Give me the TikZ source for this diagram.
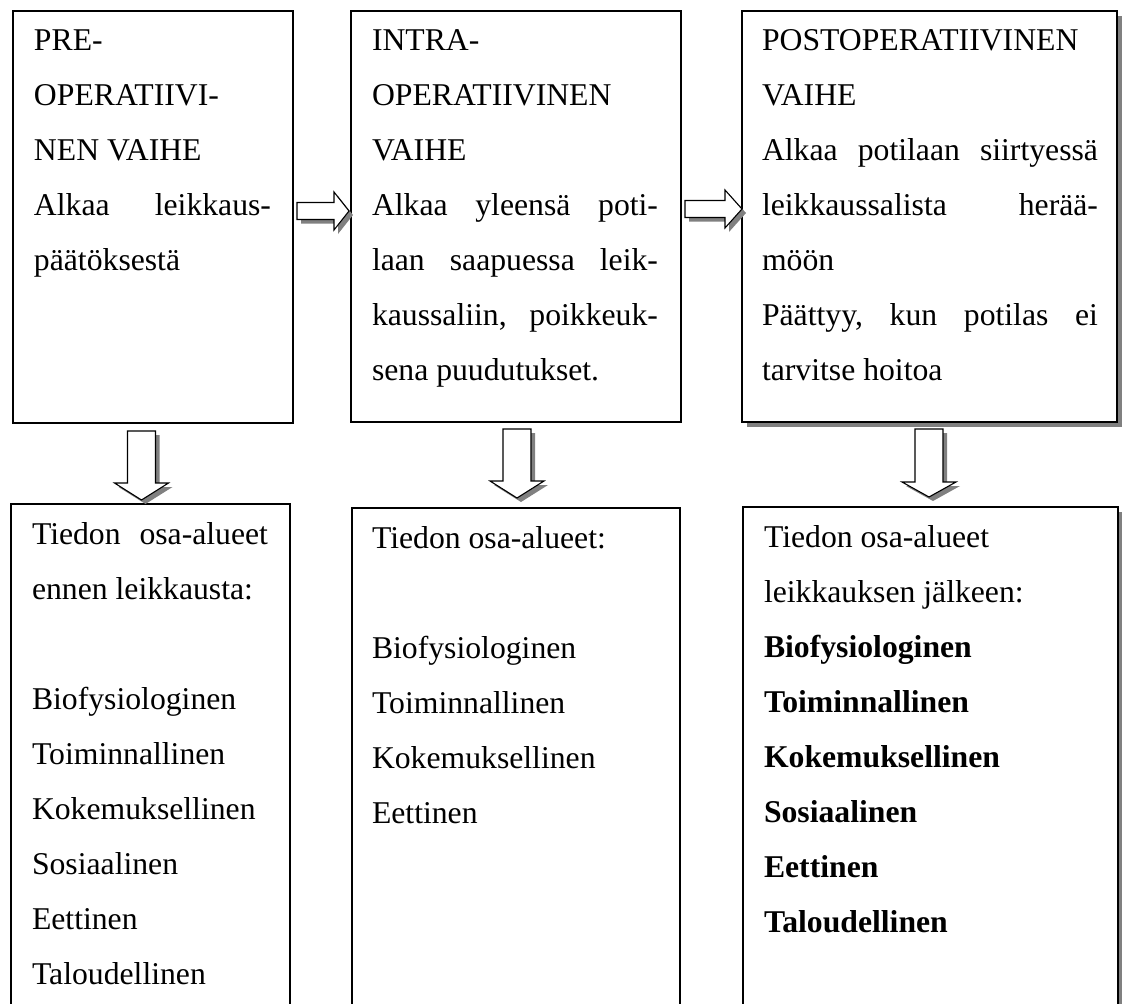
\documentclass[tikz,border=0pt]{standalone}
\usepackage{fontspec}
\setmainfont{Liberation Serif}
\usetikzlibrary{shadows}
\definecolor{shadowgray}{RGB}{128,128,128}
\newcommand\jl[1]{\hbox to\hsize{#1}}
\newcommand\nl[1]{\hbox{#1}}
\newcommand\textlines[2]{\vtop{\hsize=#1\relax\baselineskip=55pt\lineskiplimit=0pt\lineskip=0pt #2}}
\tikzset{
  box/.style={draw, line width=1.2pt, fill=white, inner sep=0pt, outer sep=0pt, anchor=north west},
  shadowed/.style={drop shadow={shadow xshift=4.5pt, shadow yshift=-4.5pt, opacity=1, fill=shadowgray}},
  txt/.style={anchor=base west, inner sep=0pt, outer sep=0pt, font=\fontsize{31.7}{55}\selectfont},
  blockarrow/.style={draw, line width=1.1pt, fill=white, line join=miter},
  arrowshadow/.style={fill=shadowgray}
}
% right block arrow: shaft start x, shaft end x, tip x, centre y
\newcommand\rarr[4]{%
  \fill[arrowshadow, shift={(4pt,-4pt)}] (#1,#4-8.5) -- (#2,#4-8.5) -- (#2,#4-19) -- (#3,#4) -- (#2,#4+19) -- (#2,#4+8.5) -- (#1,#4+8.5) -- cycle;
  \draw[blockarrow] (#1,#4-8.5) -- (#2,#4-8.5) -- (#2,#4-19) -- (#3,#4) -- (#2,#4+19) -- (#2,#4+8.5) -- (#1,#4+8.5) -- cycle;}
% down block arrow: centre x, top y, shaft end y, tip y
\newcommand\darr[4]{%
  \fill[arrowshadow, shift={(4pt,-4pt)}] (#1-14,#2) -- (#1+14,#2) -- (#1+14,#3) -- (#1+27,#3) -- (#1,#4) -- (#1-27,#3) -- (#1-14,#3) -- cycle;
  \draw[blockarrow] (#1-14,#2) -- (#1+14,#2) -- (#1+14,#3) -- (#1+27,#3) -- (#1,#4) -- (#1-27,#3) -- (#1-14,#3) -- cycle;}
\begin{document}
\begin{tikzpicture}[x=1pt,y=-1pt]
\clip (0,0) rectangle (1122,1004);
\fill[white] (0,0) rectangle (1122,1004);

% top row boxes
\node[box, minimum width=280pt, minimum height=412pt] (b1) at (13,11) {};
\node[box, minimum width=330pt, minimum height=411pt] (b2) at (351,11) {};
\node[box, shadowed, minimum width=375pt, minimum height=411pt] (b3) at (742,11) {};

% bottom row boxes (continue below the picture edge)
\node[box, minimum width=279pt, minimum height=520pt] (b4) at (11,504) {};
\node[box, minimum width=328pt, minimum height=520pt] (b5) at (352,508) {};
\node[box, shadowed, minimum width=375pt, minimum height=520pt] (b6) at (743,507) {};

% texts
\node[txt] (t1) at (34,50) {\textlines{237pt}{%
  \nl{PRE-}
  \nl{OPERATIIVI-}
  \nl{NEN VAIHE}
  \jl{Alkaa\hfill leikkaus-}
  \nl{päätöksestä}}};

\node[txt] (t2) at (372,50) {\textlines{286pt}{%
  \nl{INTRA-}
  \nl{OPERATIIVINEN}
  \nl{VAIHE}
  \jl{Alkaa\hfill yleensä\hfill poti-}
  \jl{laan\hfill saapuessa\hfill leik-}
  \jl{kaussaliin,\hfill poikkeuk-}
  \nl{sena puudutukset.}}};

\node[txt] (t3) at (762,50) {\textlines{336pt}{%
  \nl{POSTOPERATIIVINEN}
  \nl{VAIHE}
  \jl{Alkaa\hfill potilaan\hfill siirtyessä}
  \jl{leikkaussalista\hfill herää-}
  \nl{möön}
  \jl{Päättyy,\hfill kun\hfill potilas\hfill ei}
  \nl{tarvitse hoitoa}}};

\node[txt] (t4) at (32,544) {\textlines{236pt}{%
  \jl{Tiedon\hfill osa-alueet}
  \nl{ennen leikkausta:}
  \nl{}
  \nl{Biofysiologinen}
  \nl{Toiminnallinen}
  \nl{Kokemuksellinen}
  \nl{Sosiaalinen}
  \nl{Eettinen}
  \nl{Taloudellinen}}};

\node[txt] (t5) at (372,548) {\textlines{290pt}{%
  \nl{Tiedon osa-alueet:}
  \nl{}
  \nl{Biofysiologinen}
  \nl{Toiminnallinen}
  \nl{Kokemuksellinen}
  \nl{Eettinen}}};

\node[txt] (t6) at (764,547) {\textlines{330pt}{%
  \nl{Tiedon osa-alueet}
  \nl{leikkauksen jälkeen:}
  \nl{\textbf{Biofysiologinen}}
  \nl{\textbf{Toiminnallinen}}
  \nl{\textbf{Kokemuksellinen}}
  \nl{\textbf{Sosiaalinen}}
  \nl{\textbf{Eettinen}}
  \nl{\textbf{Taloudellinen}}}};

% block arrows
\rarr{297}{334}{349}{211}
\rarr{685}{725}{742}{209}
\darr{141.5}{431}{483}{500}
\darr{517}{429}{481}{498}
\darr{929}{429}{482}{497}
\end{tikzpicture}
\end{document}
